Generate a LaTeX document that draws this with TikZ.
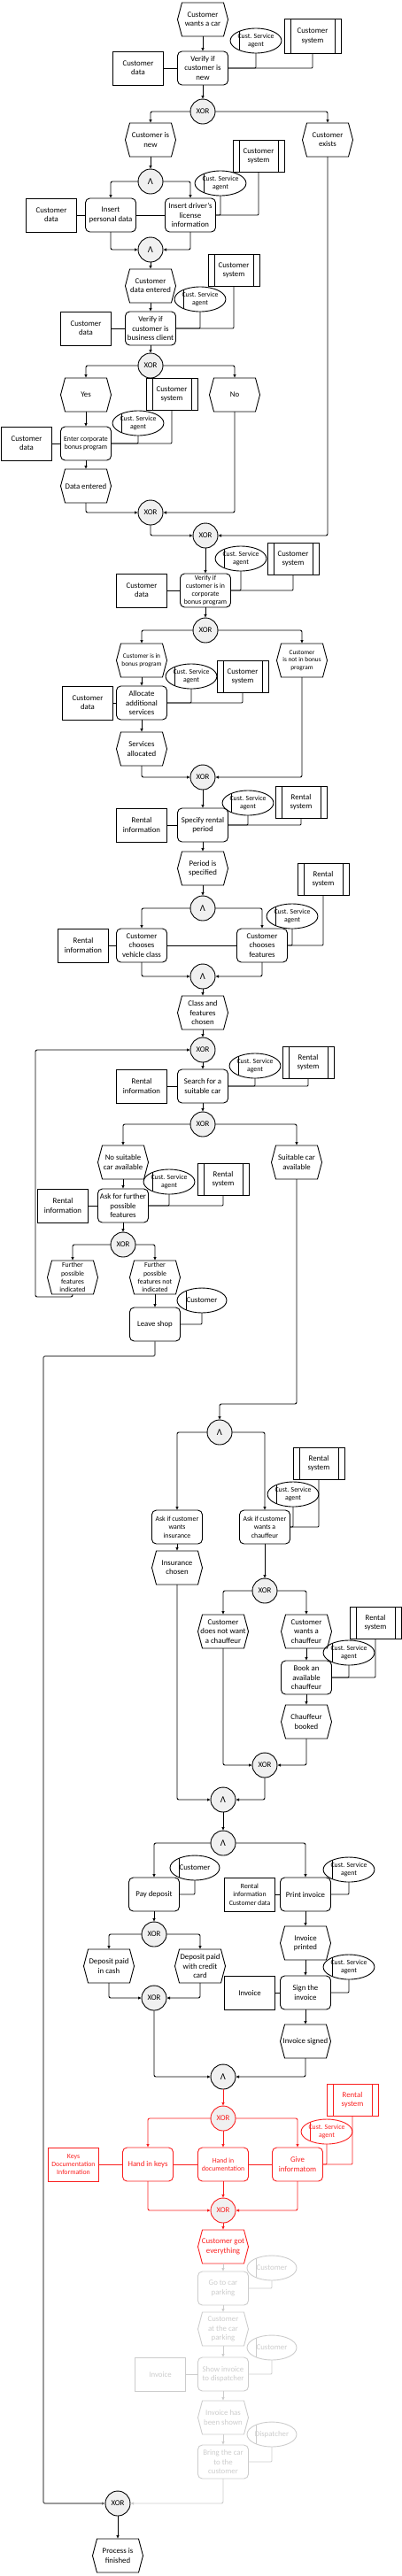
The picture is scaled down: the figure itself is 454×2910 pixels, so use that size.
\documentclass[tikz,border=0pt]{standalone}
\usepackage{fontspec}
\setmainfont{Carlito}
\usetikzlibrary{arrows.meta,shapes.geometric}
\newcommand\fN{\fontsize{8.8}{10.3}\selectfont}
\newcommand\fS{\fontsize{7.8}{9.3}\selectfont}
\newcommand\fT{\fontsize{7.3}{8.7}\selectfont}
\newcommand\fL{\fontsize{10.5}{12}\selectfont}
\colorlet{fd}{black!20}
\colorlet{cfill}{black!6}
\definecolor{rd}{RGB}{250,30,30}
\tikzset{
 lw/.style={line width=0.9pt},
 fn/.style={draw, lw, rounded corners=5pt, minimum width=57pt, minimum height=38pt, inner sep=1pt, outer sep=0pt, align=center, font=\fN},
 dat/.style={draw, lw, minimum width=57pt, minimum height=38pt, inner sep=1pt, outer sep=0pt, align=center, font=\fN},
 evn/.style={minimum width=57pt, minimum height=38pt, inner sep=1pt, outer sep=0pt, align=center, font=\fN},
 org/.style={ellipse, draw, lw, minimum width=56pt, minimum height=28pt, inner sep=0pt, outer sep=0pt, align=center, font=\fS,
   path picture={\draw[lw,#1] ([xshift=10pt]path picture bounding box.north west) -- ([xshift=10pt]path picture bounding box.south west);}},
 org/.default=black,
 sysbox/.style={draw, lw, minimum width=58pt, minimum height=36pt, inner sep=1pt, outer sep=0pt, align=center, font=\fN,
   path picture={\draw[lw,#1] ([xshift=7pt]path picture bounding box.north west) -- ([xshift=7pt]path picture bounding box.south west) ([xshift=-7pt]path picture bounding box.north east) -- ([xshift=-7pt]path picture bounding box.south east);}},
 sysbox/.default=black,
 conn/.style={circle, draw, lw, fill=cfill, minimum size=28pt, inner sep=0pt, outer sep=0pt, font=\fN},
 rconn/.style={circle, draw=rd, text=rd, lw, fill=cfill, minimum size=28pt, inner sep=0pt, outer sep=0pt, font=\fN},
 andc/.style={conn, font=\fL},
 arr/.style={lw, -{Latex[length=4pt,width=3.5pt]}, rounded corners=2pt},
 rel/.style={lw, rounded corners=1pt},
}
\newcommand\EPCevent[4][]{%
  \node[evn,#1] (#2) at (#3) {#4};
  \draw[lw,#1] ([xshift=5pt]#2.north west) -- ([xshift=-5pt]#2.north east) -- (#2.east) -- ([xshift=-5pt]#2.south east) -- ([xshift=5pt]#2.south west) -- (#2.west) -- cycle;
}
\begin{document}
\begin{tikzpicture}[x=1pt,y=-1pt]
\useasboundingbox (0,0) rectangle (454,2910);

% ---------- section 1
\EPCevent{e1}{229,22}{Customer\\wants a car}
\node[org] (o1) at (289,46) {Cust. Service\\agent};
\node[sysbox, minimum width=64pt, minimum height=39pt] (s1) at (353,41) {Customer\\system};
\node[dat] (d1) at (156,77) {Customer\\data};
\node[fn] (f1) at (229,77) {Verify if\\customer is\\new};
\node[conn] (x1) at (229,126) {XOR};
\EPCevent{e2}{170,158}{Customer is\\new}
\EPCevent{e3}{370,158}{Customer\\exists}
\node[sysbox] (s2) at (292,176) {Customer\\system};
\node[andc] (a1) at (170,205) {Λ};
\node[org] (o2) at (249,207) {Cust. Service\\agent};
\node[dat] (d2) at (58,243) {Customer\\data};
\node[fn] (f2) at (125,243) {Insert\\personal data};
\node[fn] (f3) at (215,243) {Insert driver's\\license\\information};
\node[andc] (a2) at (170,282) {Λ};
\EPCevent{e4}{170,323}{Customer\\data entered}
\node[sysbox] (s3) at (264,305) {Customer\\system};
\node[org] (o3) at (226,338) {Cust. Service\\agent};
\node[dat] (d3) at (97,371) {Customer\\data};
\node[fn] (f4) at (170,371) {Verify if\\customer is\\business client};
\node[conn] (x2) at (170,413) {XOR};
\EPCevent{e5}{97,446}{Yes}
\EPCevent{e6}{265,446}{No}
\node[sysbox] (s4) at (194,445) {Customer\\system};
\node[org] (o4) at (156,478) {Cust. Service\\agent};
\node[dat] (d4) at (30,501) {Customer\\data};
\node[fn, font=\fS] (f5) at (97,501) {Enter corporate\\bonus program};
\EPCevent{e7}{97,549}{Data entered}
\node[conn] (x3) at (170,579) {XOR};
\node[conn] (x4) at (232,605) {XOR};
\node[org] (o5) at (272,631) {Cust. Service\\agent};
\node[sysbox] (s5) at (331,631) {Customer\\system};
\node[dat] (d5) at (160,667) {Customer\\data};
\node[fn, font=\fS] (f6) at (232,667) {Verify if\\customer is in\\corporate\\bonus program};
\node[conn] (x5) at (232,712) {XOR};
\EPCevent[font=\fT]{e8}{160,746}{Customer is in\\bonus program}
\EPCevent[font=\fT]{e9}{341,746}{Customer\\is not in bonus\\program}
\node[org] (o6) at (216,764) {Cust. Service\\agent};
\node[sysbox] (s6) at (274,764) {Customer\\system};
\node[dat] (d6) at (99,794) {Customer\\data};
\node[fn] (f7) at (160,794) {Allocate\\additional\\services};
\EPCevent{e10}{160,846}{Services\\allocated}
\node[conn] (x6) at (229,878) {XOR};
\node[org] (o7) at (280,907) {Cust. Service\\agent};
\node[sysbox] (s7) at (340,906) {Rental\\system};
\node[dat] (d7) at (160,932) {Rental\\information};
\node[fn] (f8) at (229,932) {Specify rental\\period};
\EPCevent{e11}{229,981}{Period is\\specified}
\node[sysbox] (s8) at (365,993) {Rental\\system};
\node[andc] (a3) at (229,1026) {Λ};
\node[org] (o8) at (330,1035) {Cust. Service\\agent};
\node[dat] (d8) at (94,1068) {Rental\\information};
\node[fn] (f9) at (160,1068) {Customer\\chooses\\vehicle class};
\node[fn] (f10) at (296,1068) {Customer\\chooses\\features};
\node[andc] (a4) at (229,1103) {Λ};
\EPCevent{e12}{229,1144}{Class and\\features\\chosen}
\node[conn] (x7) at (229,1186) {XOR};
\node[org] (o9) at (288,1204) {Cust. Service\\agent};
\node[sysbox] (s9) at (348,1200) {Rental\\system};
\node[dat] (d9) at (160,1227) {Rental\\information};
\node[fn] (f11) at (229,1227) {Search for a\\suitable car};
\node[conn] (x8) at (229,1270) {XOR};
\EPCevent{e13}{139,1313}{No suitable\\car available}
\EPCevent{e14}{335,1313}{Suitable car\\available}
\node[org] (o10) at (191,1335) {Cust. Service\\agent};
\node[sysbox] (s10) at (252,1332) {Rental\\system};
\node[dat] (d10) at (71,1362) {Rental\\information};
\node[fn] (f12) at (139,1362) {Ask for further\\possible\\features};
\node[conn] (x9) at (139,1406) {XOR};
\EPCevent[font=\fS]{e15}{82,1443}{Further\\possible\\features\\indicated}
\EPCevent[font=\fS]{e16}{175,1443}{Further\\possible\\features not\\indicated}
\node[org, font=\fN] (o11) at (228,1469) {Customer};
\node[fn] (f13) at (175,1496) {Leave shop};
\node[andc] (a5) at (248,1618) {Λ};
\node[sysbox] (s11) at (360,1653) {Rental\\system};
\node[org] (o12) at (331,1688) {Cust. Service\\agent};
\node[fn, font=\fS] (f14) at (200,1725) {Ask if customer\\wants\\insurance};
\node[fn, font=\fS] (f15) at (299,1725) {Ask if customer\\wants a\\chauffeur};
\EPCevent{e17}{200,1771}{Insurance\\chosen}
\node[conn] (x10) at (299,1797) {XOR};
\EPCevent{e18}{252,1843}{Customer\\does not want\\a chauffeur}
\EPCevent{e19}{346,1843}{Customer\\wants a\\chauffeur}
\node[sysbox] (s12) at (424,1833) {Rental\\system};
\node[org] (o13) at (394,1867) {Cust. Service\\agent};
\node[fn] (f16) at (346,1895) {Book an\\available\\chauffeur};
\EPCevent{e20}{346,1945}{Chauffeur\\booked}
\node[conn] (x11) at (299,1994) {XOR};
\node[andc] (a6) at (252,2033) {Λ};
\node[andc] (a7) at (252,2082) {Λ};
\node[org, font=\fN] (o14) at (220,2110) {Customer};
\node[org] (o15) at (394,2112) {Cust. Service\\agent};
\node[fn] (f17) at (174,2140) {Pay deposit};
\node[dat, font=\fS] (d11) at (282,2140) {Rental\\information\\Customer data};
\node[fn] (f18) at (345,2140) {Print invoice};
\node[conn] (x12) at (174,2185) {XOR};
\EPCevent{e21}{345,2195}{Invoice\\printed}
\EPCevent{e22}{123,2221}{Deposit paid\\in cash}
\EPCevent{e23}{226,2221}{Deposit paid\\with credit\\card}
\node[conn] (x13) at (174,2257) {XOR};
\node[org] (o16) at (394,2222) {Cust. Service\\agent};
\node[dat] (d12) at (282,2251) {Invoice};
\node[fn] (f19) at (345,2251) {Sign the\\invoice};
\EPCevent{e24}{345,2306}{Invoice signed}
\node[andc] (a8) at (252,2346) {Λ};

% ---------- red part
\node[rconn] (x14) at (252,2393) {XOR};
\node[sysbox=rd, rd] (s13) at (398,2372) {Rental\\system};
\node[org=rd, rd] (o17) at (369,2408) {Cust. Service\\agent};
\node[dat, rd, font=\fS] (d13) at (83,2445) {Keys\\Documentation\\Information};
\node[fn, rd] (f20) at (167,2445) {Hand in keys};
\node[fn, rd, font=\fS] (f21) at (252,2445) {Hand in\\documentation};
\node[fn, rd] (f22) at (336,2445) {Give\\informatom};
\node[rconn] (x15) at (252,2497) {XOR};
\EPCevent[rd]{e25}{252,2538}{Customer got\\everything}

% ---------- faded part
\node[org=fd, fd, font=\fN] (o18) at (307,2562) {Customer};
\node[fn, fd] (f23) at (252,2585) {Go to car\\parking};
\EPCevent[fd]{e26}{252,2631}{Customer\\at the car\\parking}
\node[org=fd, fd, font=\fN] (o19) at (307,2652) {Customer};
\node[dat, fd] (d14) at (181,2682) {Invoice};
\node[fn, fd] (f24) at (252,2682) {Show invoice\\to dispatcher};
\EPCevent[fd]{e27}{252,2731}{Invoice has\\been shown}
\node[org=fd, fd, font=\fN] (o20) at (307,2750) {Dispatcher};
\node[fn, fd] (f25) at (252,2781) {Bring the car\\to the\\customer};

\node[conn] (x16) at (133,2828) {XOR};
\EPCevent{e28}{133,2887}{Process is\\finished}

% ---------- relations
\draw[rel] (d1.east) -- (f1.west);
\draw[rel] (f1.east) -| (o1.south);
\draw[rel] (f1.east) -| (s1.south);
\draw[rel] (d2.east) -- (f2.west);
\draw[rel] (f2.east) -- (f3.west);
\draw[rel] (f3.east) -| (o2.south);
\draw[rel] (f3.east) -| (s2.south);
\draw[rel] (d3.east) -- (f4.west);
\draw[rel] (f4.east) -| (o3.south);
\draw[rel] (f4.east) -| (s3.south);
\draw[rel] (d4.east) -- (f5.west);
\draw[rel] (f5.east) -| (o4.south);
\draw[rel] (f5.east) -| (s4.south);
\draw[rel] (d5.east) -- (f6.west);
\draw[rel] (f6.east) -| (o5.south);
\draw[rel] (f6.east) -| (s5.south);
\draw[rel] (d6.east) -- (f7.west);
\draw[rel] (f7.east) -| (o6.south);
\draw[rel] (f7.east) -| (s6.south);
\draw[rel] (d7.east) -- (f8.west);
\draw[rel] (f8.east) -| (o7.south);
\draw[rel] (f8.east) -| (s7.south);
\draw[rel] (d8.east) -- (f9.west);
\draw[rel] (f9.east) -- (f10.west);
\draw[rel] (f10.east) -| (o8.south);
\draw[rel] (f10.east) -| (s8.south);
\draw[rel] (d9.east) -- (f11.west);
\draw[rel] (f11.east) -| (o9.south);
\draw[rel] (f11.east) -| (s9.south);
\draw[rel] (d10.east) -- (f12.west);
\draw[rel] (f12.east) -| (o10.south);
\draw[rel] (f12.east) -| (s10.south);
\draw[rel] (f13.east) -| (o11.south);
\draw[rel] (f15.east) -| (o12.south);
\draw[rel] (f15.east) -| (s11.south);
\draw[rel] (f16.east) -| (o13.south);
\draw[rel] (f16.east) -| (s12.south);
\draw[rel] (f17.east) -| (o14.south);
\draw[rel] (d11.east) -- (f18.west);
\draw[rel] (f18.east) -| (o15.south);
\draw[rel] (d12.east) -- (f19.west);
\draw[rel] (f19.east) -| (o16.south);
\draw[rel, rd] (d13.east) -- (f20.west);
\draw[rel, rd] (f20.east) -- (f21.west);
\draw[rel, rd] (f21.east) -- (f22.west);
\draw[rel, rd] (f22.east) -| (o17.south);
\draw[rel, rd] (f22.east) -| (s13.south);
\draw[rel, fd] (f23.east) -| (o18.south);
\draw[rel, fd] (d14.east) -- (f24.west);
\draw[rel, fd] (f24.east) -| (o19.south);
\draw[rel, fd] (f25.east) -| (o20.south);

% ---------- control flow
\draw[arr] (e1) -- (f1);
\draw[arr] (f1) -- (x1);
\draw[arr] (x1.west) -| (e2.north);
\draw[arr] (x1.east) -| (e3.north);
\draw[arr] (e2) -- (a1);
\draw[arr] (a1.west) -| (f2.north);
\draw[arr] (a1.east) -| (f3.north);
\draw[arr] (f2.south) |- (a2.west);
\draw[arr] (f3.south) |- (a2.east);
\draw[arr] (a2) -- (e4);
\draw[arr] (e4) -- (f4);
\draw[arr] (f4) -- (x2);
\draw[arr] (x2.west) -| (e5.north);
\draw[arr] (x2.east) -| (e6.north);
\draw[arr] (e5) -- (f5);
\draw[arr] (f5) -- (e7);
\draw[arr] (e7.south) |- (x3.west);
\draw[arr] (e6.south) |- (x3.east);
\draw[arr] (x3.south) |- (x4.west);
\draw[arr] (e3.south) |- (x4.east);
\draw[arr] (x4) -- (f6);
\draw[arr] (f6) -- (x5);
\draw[arr] (x5.west) -| (e8.north);
\draw[arr] (x5.east) -| (e9.north);
\draw[arr] (e8) -- (f7);
\draw[arr] (f7) -- (e10);
\draw[arr] (e10.south) |- (x6.west);
\draw[arr] (e9.south) |- (x6.east);
\draw[arr] (x6) -- (f8);
\draw[arr] (f8) -- (e11);
\draw[arr] (e11) -- (a3);
\draw[arr] (a3.west) -| (f9.north);
\draw[arr] (a3.east) -| (f10.north);
\draw[arr] (f9.south) |- (a4.west);
\draw[arr] (f10.south) |- (a4.east);
\draw[arr] (a4) -- (e12);
\draw[arr] (e12) -- (x7);
\draw[arr] (x7) -- (f11);
\draw[arr] (f11) -- (x8);
\draw[arr] (x8.west) -| (e13.north);
\draw[arr] (x8.east) -| (e14.north);
\draw[arr] (e13) -- (f12);
\draw[arr] (f12) -- (x9);
\draw[arr] (x9.west) -| (e15.north);
\draw[arr] (x9.east) -| (e16.north);
\draw[arr] (e16) -- (f13);
\coordinate (lpA) at (40,1465);
\draw[arr] (e15.south) |- (lpA) |- (x7.west);
\coordinate (lpB) at (49,1532);
\draw[arr, line width=1.3pt, draw=black!60] (f13.south) |- (lpB) |- (x16.west);
\coordinate (cS) at (248,1586);
\draw[arr] (e14.south) |- (cS) -- (a5.north);
\draw[arr] (a5.west) -| (f14.north);
\draw[arr] (a5.east) -| (f15.north);
\draw[arr] (f14) -- (e17);
\draw[arr] (f15) -- (x10);
\draw[arr] (x10.west) -| (e18.north);
\draw[arr] (x10.east) -| (e19.north);
\draw[arr] (e19) -- (f16);
\draw[arr] (f16) -- (e20);
\draw[arr] (e18.south) |- (x11.west);
\draw[arr] (e20.south) |- (x11.east);
\draw[arr] (e17.south) |- (a6.west);
\draw[arr] (x11.south) |- (a6.east);
\draw[arr] (a6) -- (a7);
\draw[arr] (a7.west) -| (f17.north);
\draw[arr] (a7.east) -| (f18.north);
\draw[arr] (f17) -- (x12);
\draw[arr] (x12.west) -| (e22.north);
\draw[arr] (x12.east) -| (e23.north);
\draw[arr] (e22.south) |- (x13.west);
\draw[arr] (e23.south) |- (x13.east);
\draw[arr] (f18) -- (e21);
\draw[arr] (e21) -- (f19);
\draw[arr] (f19) -- (e24);
\draw[arr] (x13.south) |- (a8.west);
\draw[arr] (e24.south) |- (a8.east);
\draw[arr, rd] (a8) -- (x14);
\draw[arr, rd] (x14.west) -| (f20.north);
\draw[arr, rd] (x14.east) -| (f22.north);
\draw[arr, rd] (x14) -- (f21);
\draw[arr, rd] (f20.south) |- (x15.west);
\draw[arr, rd] (f22.south) |- (x15.east);
\draw[arr, rd] (f21) -- (x15);
\draw[arr, rd] (x15) -- (e25);
\draw[arr, fd] (e25) -- (f23);
\draw[arr, fd] (f23) -- (e26);
\draw[arr, fd] (e26) -- (f24);
\draw[arr, fd] (f24) -- (e27);
\draw[arr, fd] (e27) -- (f25);
\draw[arr, fd] (f25.south) |- (x16.east);
\draw[arr] (x16) -- (e28);
\end{tikzpicture}
\end{document}
